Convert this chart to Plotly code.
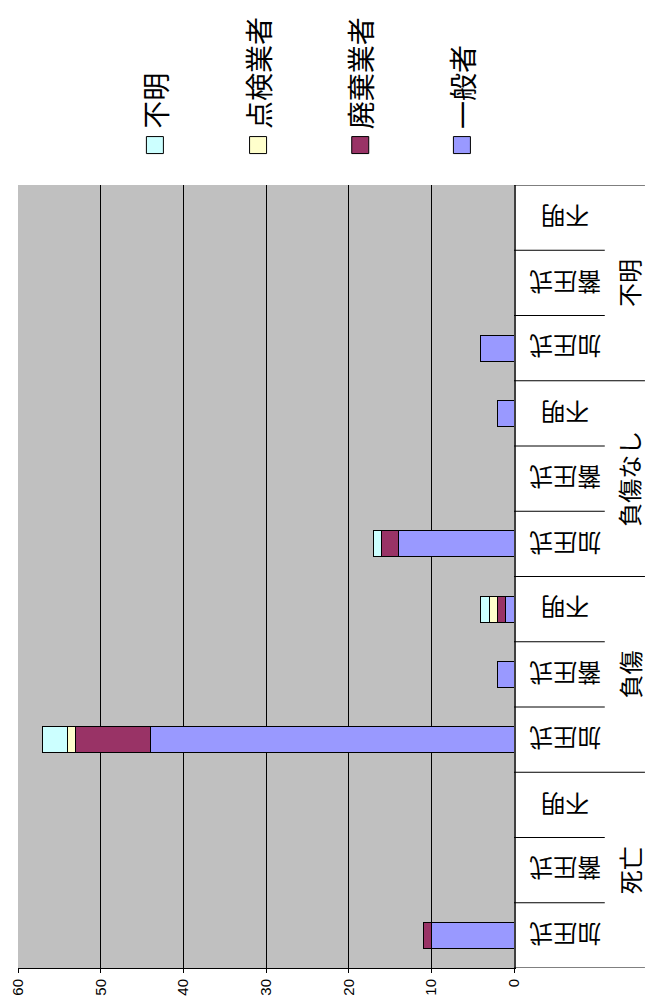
import plotly.graph_objects as go

# groups (bottom -> top) and sub-categories inside each group (bottom -> top)
groups = ['死亡', '負傷', '負傷なし', '不明']
subcats = ['加圧式', '蓄圧式', '不明']

# values per category, order: 死亡(加圧式,蓄圧式,不明), 負傷(...), 負傷なし(...), 不明(...)
ippan = [10, 0, 0, 44, 2, 1, 14, 0, 2, 4, 0, 0]     # 一般者
haiki = [1, 0, 0, 9, 0, 1, 2, 0, 0, 0, 0, 0]       # 廃棄業者
tenken = [0, 0, 0, 1, 0, 1, 0, 0, 0, 0, 0, 0]      # 点検業者
fumei = [0, 0, 0, 3, 0, 1, 1, 0, 0, 0, 0, 0]       # 不明

series = [
    ('一般者', ippan, '#9999FF'),
    ('廃棄業者', haiki, '#993366'),
    ('点検業者', tenken, '#FFFFCC'),
    ('不明', fumei, '#CCFFFF'),
]

tick_vals = [0, 10, 20, 30, 40, 50, 60]

JP = 'Noto Sans CJK JP'
n = len(groups) * len(subcats)
pos = list(range(n))

fig = go.Figure()
for name, vals, color in series:
    fig.add_trace(go.Bar(
        x=[v if v else None for v in vals], y=pos, orientation='h', name=name,
        width=0.4, marker=dict(color=color, line=dict(color='black', width=1)),
    ))

shapes = []
annotations = []

# category separators on the right-hand axis
for k in range(n + 1):
    is_group = (k % len(subcats) == 0)
    shapes.append(dict(
        type='line', xref='paper', yref='y', x0=1.0, x1=1.264 if is_group else 1.183,
        y0=k - 0.5, y1=k - 0.5, line=dict(color='black', width=1),
    ))

# sub-category labels (upside down, as in the reference)
for k in range(n):
    annotations.append(dict(
        xref='paper', yref='y', x=1.103, y=k, text=subcats[k % len(subcats)],
        showarrow=False, textangle=180, xanchor='center', yanchor='middle',
        font=dict(family=JP, size=24, color='black'),
    ))

# group labels
for g, name in enumerate(groups):
    annotations.append(dict(
        xref='paper', yref='y', x=1.232, y=g * len(subcats) + 1, text=name,
        showarrow=False, textangle=-90, xanchor='center', yanchor='middle',
        font=dict(family=JP, size=24, color='black'),
    ))

# custom legend across the top (rotated text)
legend_x = [0.276, 0.484, 0.690, 0.895]
for (name, vals, color), lx in zip(reversed(series), legend_x):
    shapes.append(dict(
        type='rect', xref='paper', yref='paper', xsizemode='pixel', ysizemode='pixel',
        xanchor=lx, yanchor=1.051, x0=-8.5, x1=8.5, y0=-8.5, y1=8.5,
        fillcolor=color, line=dict(color='black', width=1),
    ))
    annotations.append(dict(
        xref='paper', yref='paper', x=lx, y=1.069, text=name, showarrow=False,
        textangle=-90, xanchor='center', yanchor='bottom',
        font=dict(family=JP, size=28, color='black'),
    ))

fig.update_layout(
    width=647, height=1008,
    margin=dict(l=18, r=133, t=185, b=40),
    paper_bgcolor='white', plot_bgcolor='#C0C0C0',
    barmode='stack', showlegend=False,
    shapes=shapes, annotations=annotations,
    xaxis=dict(
        range=[60, 0], tickvals=tick_vals, ticktext=[str(v) for v in tick_vals],
        tickangle=-90, showgrid=True, gridcolor='black', gridwidth=1,
        showline=True, linecolor='black', linewidth=1, ticks='outside', ticklen=4,
        tickcolor='black', zeroline=False, automargin=False,
        tickfont=dict(family='Liberation Sans', size=15, color='black'),
    ),
    yaxis=dict(
        range=[-0.5, n - 0.5], side='right', showticklabels=False, showgrid=False,
        zeroline=False, showline=True, linecolor='#404040', linewidth=2,
        automargin=False,
    ),
)

# drop the default page margin so the figure fills the window exactly
fig.write_html(
    "out.html",
    config={'displayModeBar': False},
    post_script="document.body.style.margin='0';document.body.style.overflow='hidden';",
)
